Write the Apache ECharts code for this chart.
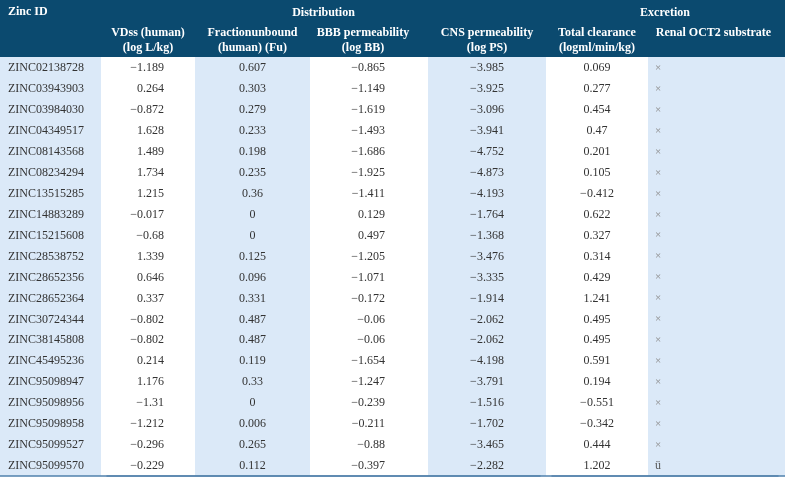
<!DOCTYPE html>
<html><head><meta charset="utf-8">
<script src="https://cdn.jsdelivr.net/npm/echarts@6/dist/echarts.min.js"></script>
<style>html,body{margin:0;padding:0;background:#fff}#c{width:785px;height:478px}</style>
</head><body><div id="c"></div>
<script>
// ---- data ----
const zincIds = ['ZINC02138728','ZINC03943903','ZINC03984030','ZINC04349517','ZINC08143568','ZINC08234294','ZINC13515285','ZINC14883289','ZINC15215608','ZINC28538752','ZINC28652356','ZINC28652364','ZINC30724344','ZINC38145808','ZINC45495236','ZINC95098947','ZINC95098956','ZINC95098958','ZINC95099527','ZINC95099570'];
const vdss = [-1.189,0.264,-0.872,1.628,1.489,1.734,1.215,-0.017,-0.68,1.339,0.646,0.337,-0.802,-0.802,0.214,1.176,-1.31,-1.212,-0.296,-0.229];
const fu = [0.607,0.303,0.279,0.233,0.198,0.235,0.36,0,0,0.125,0.096,0.331,0.487,0.487,0.119,0.33,0,0.006,0.265,0.112];
const bbb = [-0.865,-1.149,-1.619,-1.493,-1.686,-1.925,-1.411,0.129,0.497,-1.205,-1.071,-0.172,-0.06,-0.06,-1.654,-1.247,-0.239,-0.211,-0.88,-0.397];
const cns = [-3.985,-3.925,-3.096,-3.941,-4.752,-4.873,-4.193,-1.764,-1.368,-3.476,-3.335,-1.914,-2.062,-2.062,-4.198,-3.791,-1.516,-1.702,-3.465,-2.282];
const clearance = [0.069,0.277,0.454,0.47,0.201,0.105,-0.412,0.622,0.327,0.314,0.429,1.241,0.495,0.495,0.591,0.194,-0.551,-0.342,0.444,1.202];
const oct2 = ['×','×','×','×','×','×','×','×','×','×','×','×','×','×','×','×','×','×','×','ü'];
const columnHeaders = ['', 'VDss (human)\n(log L/kg)', 'Fractionunbound\n(human) (Fu)', 'BBB permeability\n(log BB)', 'CNS permeability\n(log PS)', 'Total clearance\n(logml/min/kg)', 'Renal OCT2 substrate\n '];
const groupHeaders = ['Distribution', 'Excretion'];
const firstHeader = 'Zinc ID';

// ---- layout / style ----
const FONT = 'Liberation Serif';
const HEAD_BG = '#0b4a6f';
const SHADE = '#dbe9f8';
const TEXT = '#333333';
const edges = [0,101,195,310,428,546,648,785];
const TOP = 57, H = 419;
const fmt = v => (typeof v === 'number') ? (v < 0 ? '\u2212' + String(-v) : String(v)) : v;
const cols = [
  {vals: zincIds, align:'left', pad:8, shade:true, hshift:0},
  {vals: vdss, align:'right', pad:31, shade:false, hshift:0},
  {vals: fu, align:'center', shift:0, shade:true, hshift:0},
  {vals: bbb, align:'right', pad:43, shade:false, hshift:-6},
  {vals: cns, align:'center', shift:0, shade:true, hshift:0},
  {vals: clearance, align:'center', shift:0, shade:false, hshift:0},
  {vals: oct2, align:'left', pad:7, shade:true, hshift:-3}
];
const groups = [{left:107, width:433}, {left:552, width:226}];

const grid = [], xAxis = [], yAxis = [], series = [];
const rowIdx = zincIds.map((_, i) => String(i));

cols.forEach((c, i) => {
  grid.push({left: edges[i], width: edges[i+1]-edges[i], top: TOP, height: H,
    show: c.shade, backgroundColor: c.shade ? SHADE : 'transparent', borderWidth: 0});
  const sh = c.hshift;
  xAxis.push({type:'category', gridIndex:i, position:'top', data:[columnHeaders[i]], z:5,
    axisLine:{show:false}, axisTick:{show:false}, splitLine:{show:false},
    axisLabel:{interval:0, color:'#fff', fontWeight:'bold', fontSize:12, fontFamily:FONT, lineHeight:15, margin:2,
      padding: sh < 0 ? [0, -2*sh, 0, 0] : [0,0,0,0]}});
  yAxis.push({type:'category', gridIndex:i, inverse:true, data: rowIdx, show:false});
  series.push({type:'custom', xAxisIndex:i, yAxisIndex:i, silent:true,
    data: c.vals.map((v, r) => [0, r]),
    renderItem: (params, api) => {
      const p = api.coord([0, params.dataIndex]);
      const s = api.size([1, 1]);
      let x, align;
      if (c.align === 'left') { x = p[0] - s[0]/2 + c.pad; align = 'left'; }
      else if (c.align === 'right') { x = p[0] + s[0]/2 - c.pad; align = 'right'; }
      else { x = p[0] + (c.shift || 0); align = 'center'; }
      const val = c.vals[params.dataIndex];
      const isMark = typeof val !== 'number' && i === 6;
      return {type:'text', style:{x: x, y: p[1] + 0.5, text: fmt(val), align: align, verticalAlign:'middle',
        fill: isMark ? (val === '×' ? '#8a8a8a' : '#555') : TEXT,
        font: (val === '×' ? '11px ' : '12px ') + '"' + FONT + '"'}};
    }});
});

// group header axes (Distribution / Excretion) with separator lines
groups.forEach((g, k) => {
  const gi = grid.length;
  grid.push({left: g.left, width: g.width, top: TOP, height: H, show:false});
  xAxis.push({type:'category', gridIndex: gi, position:'top', offset: 36, data:[groupHeaders[k]], z:5,
    axisLine:{show:true, lineStyle:{color:'#6f92ad', width:1.5}}, axisTick:{show:false},
    axisLabel:{interval:0, color:'#fff', fontWeight:'bold', fontSize:12, fontFamily:FONT, lineHeight:15, margin:1}});
  yAxis.push({type:'value', gridIndex: gi, show:false});
});

// header band
const hg = grid.length;
grid.push({left:0, right:0, top:0, height:TOP, show:true, backgroundColor: HEAD_BG, borderWidth:0, z:-1});
xAxis.push({type:'category', gridIndex: hg, data:[''], show:false});
yAxis.push({type:'value', gridIndex: hg, show:false});

// bottom rule
const fg = grid.length;
grid.push({left:0, right:0, top:TOP, height:H, show:false});
xAxis.push({type:'category', gridIndex: fg, position:'bottom', data:[''], z:5,
  axisLine:{show:true, lineStyle:{color:'#4f80ad', width:1.5}}, axisTick:{show:false}, axisLabel:{show:false}});
yAxis.push({type:'value', gridIndex: fg, show:false});

const chart = echarts.init(document.getElementById('c'), null, {renderer:'canvas'});
chart.setOption({
  animation:false,
  backgroundColor:'#fff',
  title:{text:firstHeader, left:8, top:4, padding:0, z:6,
    textStyle:{color:'#fff', fontWeight:'bold', fontSize:12, fontFamily:FONT, lineHeight:15}},
  grid, xAxis, yAxis, series
});
</script></body></html>
